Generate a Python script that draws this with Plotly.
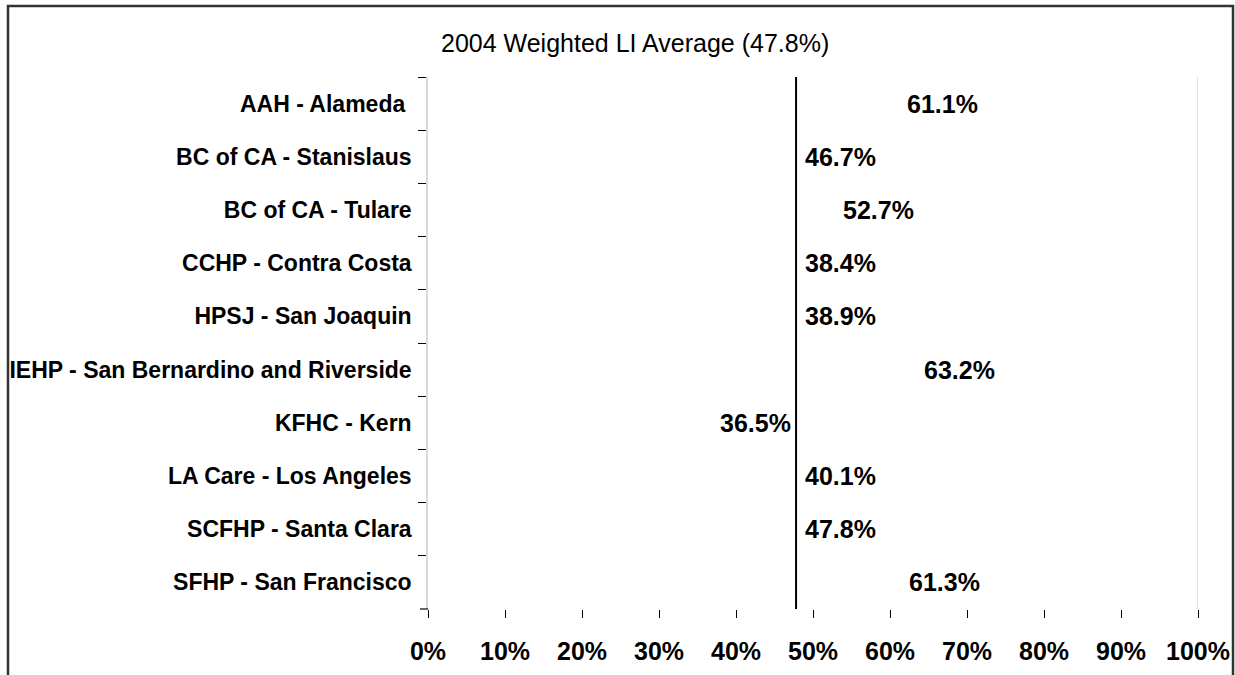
import plotly.graph_objects as go

# ---- data ----
categories = [
    "AAH - Alameda ",
    "BC of CA - Stanislaus",
    "BC of CA - Tulare",
    "CCHP - Contra Costa",
    "HPSJ - San Joaquin",
    "IEHP - San Bernardino and Riverside",
    "KFHC - Kern",
    "LA Care - Los Angeles",
    "SCFHP - Santa Clara",
    "SFHP - San Francisco",
]
li_rates = [0.611, 0.467, 0.527, 0.384, 0.389, 0.632, 0.365, 0.401, 0.478, 0.613]
weighted_average = 0.478
title_text = "2004 Weighted LI Average (47.8%)"
x_tick_values = [0, 0.1, 0.2, 0.3, 0.4, 0.5, 0.6, 0.7, 0.8, 0.9, 1.0]

FONT = "Liberation Sans, Arial, sans-serif"
W, H = 1235, 675
L, R, T, B = 428, 37, 77, 66
pw, ph = W - L - R, H - T - B

def px_to_paper_x(px):
    return (px - L) / pw

def px_to_paper_y(py):
    return (H - B - py) / ph

fig = go.Figure()
fig.add_trace(go.Bar(
    x=li_rates, y=categories, orientation="h",
    marker=dict(color="rgba(0,0,0,0)", line=dict(width=0)),
    hovertemplate="%{y}: %{x:.1%}<extra></extra>",
    showlegend=False,
))

label_font = dict(family=FONT, size=25, color="black", weight="bold")
annotations = []
lowest = min(li_rates)
for cat, v in zip(categories, li_rates):
    if v == lowest:
        annotations.append(dict(x=weighted_average, y=cat, xref="x", yref="y",
                                text=f"{v:.1%}", showarrow=False, xanchor="right",
                                xshift=-3, font=label_font))
    else:
        annotations.append(dict(x=max(v, weighted_average), y=cat, xref="x", yref="y",
                                text=f"{v:.1%}", showarrow=False, xanchor="left",
                                xshift=7, font=label_font))

annotations.append(dict(text=title_text, x=px_to_paper_x(635), y=px_to_paper_y(43),
                        xref="paper", yref="paper", showarrow=False,
                        xanchor="center", yanchor="middle",
                        font=dict(family=FONT, size=25, color="black")))

shapes = [
    # average line
    dict(type="line", xref="x", yref="paper", x0=weighted_average, x1=weighted_average,
         y0=0, y1=1, line=dict(color="black", width=2)),
    # right edge line at 100%
    dict(type="line", xref="x", yref="paper", x0=1, x1=1, y0=0, y1=1,
         line=dict(color="#d9d9d9", width=1.5)),
    # bottom y-axis tick
    dict(type="line", xref="paper", yref="paper", x0=px_to_paper_x(420), x1=0,
         y0=0, y1=0, line=dict(color="black", width=1.2)),
    # chart border
    dict(type="rect", xref="paper", yref="paper",
         x0=px_to_paper_x(8), x1=px_to_paper_x(1233),
         y0=px_to_paper_y(700), y1=px_to_paper_y(6),
         line=dict(color="#333333", width=2.5), fillcolor="rgba(0,0,0,0)"),
]

fig.update_layout(
    width=W, height=H,
    margin=dict(l=L, r=R, t=T, b=B, pad=0),
    paper_bgcolor="white", plot_bgcolor="white",
    font=dict(family=FONT, size=24, color="black"),
    annotations=annotations, shapes=shapes,
    bargap=0.4,
    xaxis=dict(range=[0, 1], tickvals=x_tick_values, tickformat=".0%",
               automargin=False,
               showgrid=False, zeroline=False, showline=False,
               ticks="outside", ticklen=8, tickwidth=1.2, tickcolor="black",
               ticklabelstandoff=12,
               tickfont=dict(family=FONT, size=25, color="black", weight="bold"),
               fixedrange=True),
    yaxis=dict(autorange="reversed", automargin=False,
               showgrid=False, zeroline=False,
               showline=True, linecolor="#d9d9d9", linewidth=1.5,
               ticks="outside", tickson="boundaries", ticklen=8, tickwidth=1.2,
               tickcolor="black", ticklabelstandoff=10,
               tickfont=dict(family=FONT, size=23, color="black", weight="bold"),
               fixedrange=True),
)

fig.write_html("out.html", config={"displayModeBar": False},
               post_script="document.body.style.margin='0';document.body.style.overflow='hidden';")
